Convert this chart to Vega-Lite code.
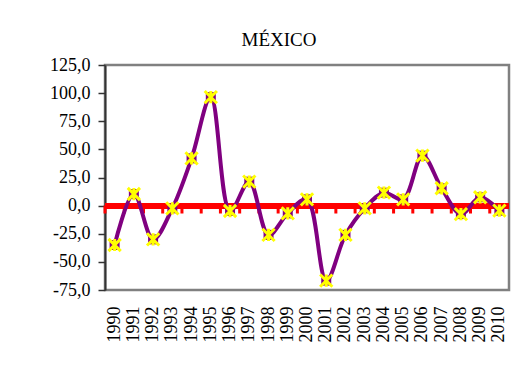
{
  "$schema": "https://vega.github.io/schema/vega-lite/v6.json",
  "autosize": {"type": "none"},
  "width": 404,
  "height": 225,
  "padding": {"left": 105, "top": 65, "right": 14, "bottom": 76},
  "background": "white",
  "title": {"text": "MÉXICO", "font": "Liberation Serif", "fontSize": 19, "fontWeight": "normal", "color": "black", "anchor": "middle", "dx": -28, "offset": 6},
  "data": {"values": [
    {"year": "1990", "value": -35},
    {"year": "1991", "value": 10.3},
    {"year": "1992", "value": -30},
    {"year": "1993", "value": -2.4},
    {"year": "1994", "value": 42},
    {"year": "1995", "value": 96.5},
    {"year": "1996", "value": -4.8},
    {"year": "1997", "value": 21.3},
    {"year": "1998", "value": -26},
    {"year": "1999", "value": -6.9},
    {"year": "2000", "value": 5.6},
    {"year": "2001", "value": -66.7},
    {"year": "2002", "value": -26},
    {"year": "2003", "value": -2.4},
    {"year": "2004", "value": 11.5},
    {"year": "2005", "value": 5.6},
    {"year": "2006", "value": 44.4},
    {"year": "2007", "value": 15.4},
    {"year": "2008", "value": -7.5},
    {"year": "2009", "value": 7.4},
    {"year": "2010", "value": -4.5}
  ]},
  "encoding": {
    "x": {"field": "year", "type": "ordinal", "scale": {"paddingInner": 0, "paddingOuter": 0},
      "axis": {"title": null, "domain": false, "ticks": false, "labelAngle": -90, "labelAlign": "right", "labelBaseline": "middle", "labelPadding": 16, "labelOverlap": false, "labelFont": "Liberation Serif", "labelFontSize": 18, "labelColor": "black"}}
  },
  "layer": [
    {
      "mark": {"type": "rule", "color": "#ff0000", "strokeWidth": 5},
      "encoding": {"x": null, "y": {"datum": 0, "type": "quantitative",
          "scale": {"domain": [-75, 125], "nice": false, "zero": false},
          "axis": {"title": null, "values": [-75, -50, -25, 0, 25, 50, 75, 100, 125], "tickCount": 20, "labelOverlap": false, "grid": false, "domainColor": "#333333", "domainWidth": 2, "tickColor": "#333333", "tickWidth": 1.5, "tickSize": 7, "labelPadding": 8, "labelFont": "Liberation Serif", "labelFontSize": 18, "labelColor": "black",
            "labelExpr": "replace(replace(format(datum.value, '.1f'), '.', ','), '\u2212', '-')"}}}
    },
    {
      "mark": {"type": "rule", "color": "#ff0000", "strokeWidth": 3},
      "encoding": {
        "x": {"field": "year", "type": "ordinal", "bandPosition": 0},
        "y": {"datum": 0, "type": "quantitative"},
        "y2": {"datum": -7}
      }
    },
    {
      "mark": {"type": "line", "color": "#800080", "strokeWidth": 4, "interpolate": "catmull-rom"},
      "encoding": {
        "y": {"field": "value", "type": "quantitative"}
      }
    },
    {
      "mark": {"type": "point", "shape": "square", "filled": true, "color": "#800080", "size": 100, "opacity": 1},
      "encoding": {"y": {"field": "value", "type": "quantitative"}}
    },
    {
      "mark": {"type": "point", "shape": "M-1,-1L1,1M-1,1L1,-1M0,-1L0,1", "filled": false, "stroke": "#ffff00", "strokeWidth": 3, "size": 150, "opacity": 1},
      "encoding": {"y": {"field": "value", "type": "quantitative"}}
    }
  ],
  "config": {
    "view": {"stroke": "#808080", "strokeWidth": 2.5}
  }
}
